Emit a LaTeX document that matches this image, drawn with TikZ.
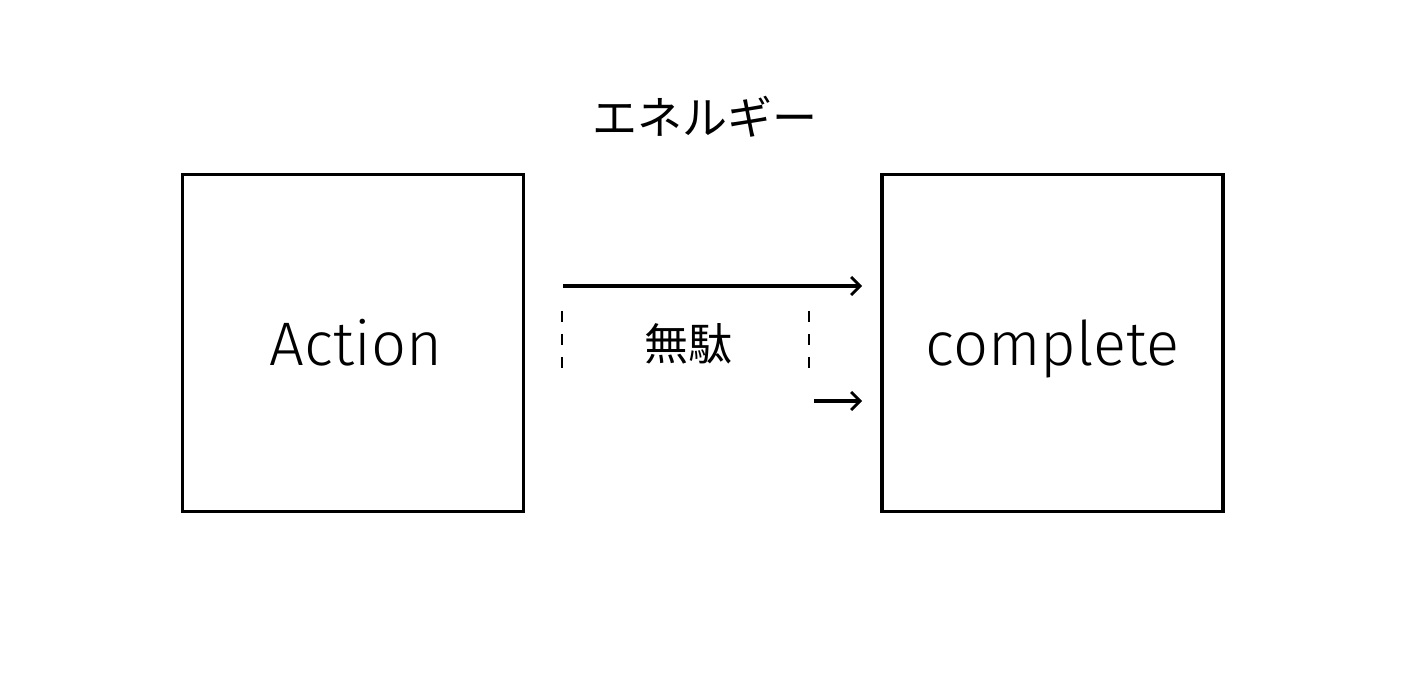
\documentclass[tikz,border=0pt]{standalone}
\usepackage{fontspec}
\setmainfont{Fira Sans Light}
\newfontfamily\jpfont{Noto Sans CJK JP}
\usetikzlibrary{arrows.meta}
\begin{document}
\begin{tikzpicture}[x=1pt,y=-1pt,
  box/.style={draw,line width=3.2pt,minimum width=341pt,minimum height=337pt,inner sep=0pt,text height=46pt,text depth=0pt,font=\fontsize{61.5}{62}\selectfont},
  arr/.style={line width=3.2pt,-{Straight Barb[length=9pt,width=18pt,line width=2.8pt]}},
  dashline/.style={line width=1.5pt,dash pattern=on 11pt off 12pt}]
\useasboundingbox (0,0) rectangle (1414,700);
\node[box] (action) at (353,343) {\hspace*{6pt}Action};
\node[box] (complete) at (1052.5,343) {complete};
\node[font=\jpfont\fontsize{45}{45}\selectfont] (energy) at (705,117) {エネルギー};
\node[font=\jpfont\fontsize{44}{44}\selectfont] (muda) at (688,344) {無駄};
\coordinate (a1s) at (563,286);
\coordinate (a1e) at (862,286);
\coordinate (a2s) at (814,401);
\coordinate (a2e) at (862,401);
\coordinate (d1s) at (562,311);
\coordinate (d1e) at (562,372);
\coordinate (d2s) at (809,311);
\coordinate (d2e) at (809,372);
\draw[arr] (a1s) -- (a1e);
\draw[arr] (a2s) -- (a2e);
\draw[dashline] (d1s) -- (d1e);
\draw[dashline] (d2s) -- (d2e);
\end{tikzpicture}
\end{document}
